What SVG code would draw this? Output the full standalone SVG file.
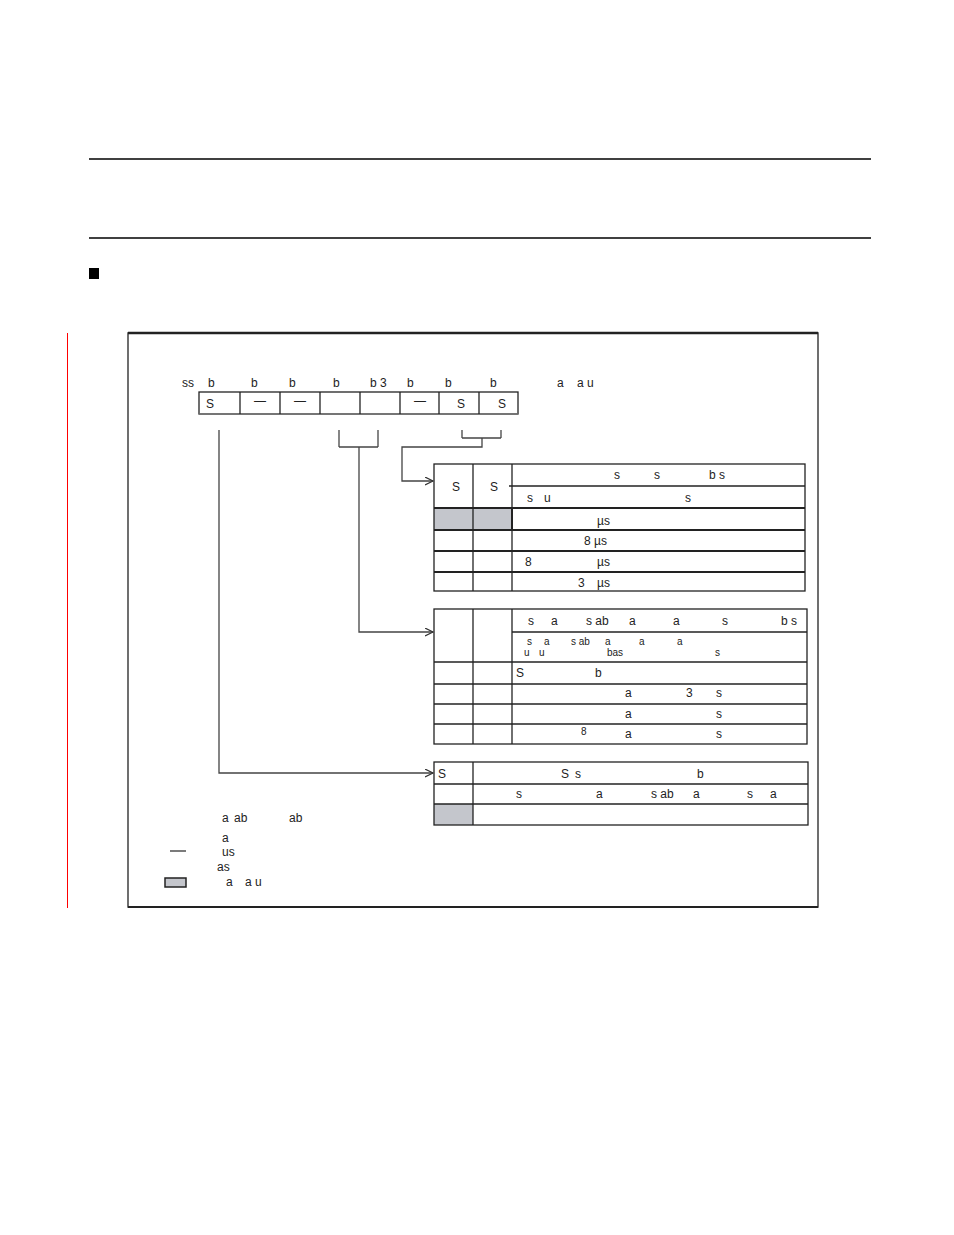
<svg xmlns="http://www.w3.org/2000/svg" width="954" height="1235" viewBox="0 0 954 1235">
<defs>
<style>
text{font-family:"Liberation Sans",Arial,sans-serif;font-size:12px;fill:#222;white-space:pre}
.sm{font-size:10px}
.ln{stroke:#222;stroke-width:1.3;fill:none}
.th{stroke:#222;stroke-width:2;fill:none}
.gr{fill:#c4c6cc}
.cn{stroke:#444;stroke-width:1.3;fill:none}
</style>
<marker id="ar" markerWidth="10" markerHeight="10" refX="8" refY="4" orient="auto" markerUnits="userSpaceOnUse">
<path d="M0,0 L8,4 L0,8" fill="none" stroke="#333" stroke-width="1.2"/>
</marker>
</defs>
<rect width="954" height="1235" fill="#fff"/>
<g id="page">
<line x1="89" y1="159" x2="871" y2="159" stroke="#000" stroke-width="1.3"/>
<line x1="89" y1="238" x2="871" y2="238" stroke="#000" stroke-width="1.3"/>
<rect x="89" y="268" width="10" height="11" fill="#000"/>
<line x1="67.5" y1="333" x2="67.5" y2="908" stroke="#f00" stroke-width="1"/>
<path d="M128,907 L128,333 L818,333 L818,907 Z" class="ln"/>
<line x1="128" y1="333" x2="818" y2="333" stroke="#222" stroke-width="2.5"/>
<line x1="128" y1="907" x2="818" y2="907" stroke="#222" stroke-width="2"/>
</g>
<g id="register">
<text x="182" y="387">ss</text>
<text x="208" y="387">b</text>
<text x="251" y="387">b</text>
<text x="289" y="387">b</text>
<text x="333" y="387">b</text>
<text x="370" y="387">b 3</text>
<text x="407" y="387">b</text>
<text x="445" y="387">b</text>
<text x="490" y="387">b</text>
<text x="557" y="387">a</text>
<text x="577" y="387">a u</text>
<rect x="199" y="392" width="319" height="22" class="ln"/>
<line x1="199" y1="414" x2="518" y2="414" stroke="#777" stroke-width="1.5"/>
<line x1="240" y1="392" x2="240" y2="414" class="ln"/>
<line x1="280" y1="392" x2="280" y2="414" class="ln"/>
<line x1="320" y1="392" x2="320" y2="414" class="ln"/>
<line x1="360" y1="392" x2="360" y2="414" class="ln"/>
<line x1="400" y1="392" x2="400" y2="414" class="ln"/>
<line x1="439" y1="392" x2="439" y2="414" class="ln"/>
<line x1="479" y1="392" x2="479" y2="414" class="ln"/>
<text x="206" y="408">S</text>
<text x="260" y="405" text-anchor="middle">—</text>
<text x="300" y="405" text-anchor="middle">—</text>
<text x="420" y="405" text-anchor="middle">—</text>
<text x="461" y="408" text-anchor="middle">S</text>
<text x="502" y="408" text-anchor="middle">S</text>
</g>
<g id="table1">
<rect x="434" y="508" width="78" height="22" class="gr"/>
<rect x="434" y="464" width="371" height="127" class="ln"/>
<line x1="473" y1="464" x2="473" y2="591" class="ln"/>
<line x1="512" y1="464" x2="512" y2="591" class="ln"/>
<line x1="512" y1="508" x2="512" y2="530" class="th"/>
<line x1="509" y1="486" x2="805" y2="486" class="ln"/>
<line x1="434" y1="508" x2="805" y2="508" class="th"/>
<line x1="434" y1="530" x2="805" y2="530" class="th"/>
<line x1="434" y1="551" x2="805" y2="551" class="th"/>
<line x1="434" y1="572" x2="805" y2="572" class="th"/>
<text x="456" y="491" text-anchor="middle">S</text>
<text x="494" y="491" text-anchor="middle">S</text>
<text x="614" y="479">s</text>
<text x="654" y="479">s</text>
<text x="709" y="479">b s</text>
<text x="527" y="502">s</text>
<text x="544" y="502">u</text>
<text x="685" y="502">s</text>
<text x="597" y="525">µs</text>
<text x="584" y="545">8 µs</text>
<text x="525" y="566">8</text>
<text x="597" y="566">µs</text>
<text x="578" y="587">3</text>
<text x="597" y="587">µs</text>
</g>
<g id="table2">
<rect x="434" y="609" width="373" height="135" class="ln"/>
<line x1="473" y1="609" x2="473" y2="744" class="ln"/>
<line x1="512" y1="609" x2="512" y2="744" class="ln"/>
<line x1="512" y1="632" x2="807" y2="632" class="ln"/>
<line x1="434" y1="662" x2="807" y2="662" class="ln"/>
<line x1="434" y1="684" x2="807" y2="684" class="ln"/>
<line x1="434" y1="704" x2="807" y2="704" class="ln"/>
<line x1="434" y1="724" x2="807" y2="724" class="ln"/>
<text x="528" y="625">s</text>
<text x="551" y="625">a</text>
<text x="586" y="625">s ab</text>
<text x="629" y="625">a</text>
<text x="673" y="625">a</text>
<text x="722" y="625">s</text>
<text x="781" y="625">b s</text>
<text class="sm" x="527" y="645">s</text>
<text class="sm" x="544" y="645">a</text>
<text class="sm" x="571" y="645">s ab</text>
<text class="sm" x="605" y="645">a</text>
<text class="sm" x="639" y="645">a</text>
<text class="sm" x="677" y="645">a</text>
<text class="sm" x="524" y="656">u</text>
<text class="sm" x="539" y="656">u</text>
<text class="sm" x="607" y="656">bas</text>
<text class="sm" x="715" y="656">s</text>
<text x="516" y="677">S</text>
<text x="595" y="677">b</text>
<text x="625" y="697">a</text>
<text x="686" y="697">3</text>
<text x="716" y="697">s</text>
<text x="625" y="718">a</text>
<text x="716" y="718">s</text>
<text class="sm" x="581" y="735">8</text>
<text x="625" y="738">a</text>
<text x="716" y="738">s</text>
</g>
<g id="table3">
<rect x="434" y="804" width="39" height="21" class="gr"/>
<rect x="434" y="762" width="374" height="63" class="ln"/>
<line x1="473" y1="762" x2="473" y2="825" class="ln"/>
<line x1="434" y1="784" x2="808" y2="784" class="ln"/>
<line x1="434" y1="804" x2="808" y2="804" class="ln"/>
<text x="438" y="778">S</text>
<text x="561" y="778">S</text>
<text x="575" y="778">s</text>
<text x="697" y="778">b</text>
<text x="516" y="798">s</text>
<text x="596" y="798">a</text>
<text x="651" y="798">s ab</text>
<text x="693" y="798">a</text>
<text x="747" y="798">s</text>
<text x="770" y="798">a</text>
</g>
<g id="legend">
<text x="222" y="822">a</text>
<text x="234" y="822">ab</text>
<text x="289" y="822">ab</text>
<text x="222" y="842">a</text>
<line x1="170" y1="851" x2="186" y2="851" stroke="#222" stroke-width="1.2"/>
<text x="222" y="856">us</text>
<text x="217" y="871">as</text>
<rect x="165" y="878" width="21" height="9" class="gr" stroke="#222" stroke-width="1.5"/>
<text x="226" y="886">a</text>
<text x="245" y="886">a u</text>
</g>
<g id="connectors">
<line x1="339" y1="430" x2="339" y2="447" class="cn"/>
<line x1="378" y1="430" x2="378" y2="447" class="cn"/>
<line x1="339" y1="447" x2="378" y2="447" class="cn"/>
<line x1="462" y1="430" x2="462" y2="438" class="cn"/>
<line x1="501" y1="430" x2="501" y2="438" class="cn"/>
<line x1="462" y1="438" x2="501" y2="438" class="cn"/>
<path d="M482,438 L482,447 L402,447 L402,481 L433,481" class="cn" marker-end="url(#ar)"/>
<path d="M359,447 L359,632 L433,632" class="cn" marker-end="url(#ar)"/>
<path d="M219,430 L219,773 L433,773" class="cn" marker-end="url(#ar)"/>
</g>
</svg>
